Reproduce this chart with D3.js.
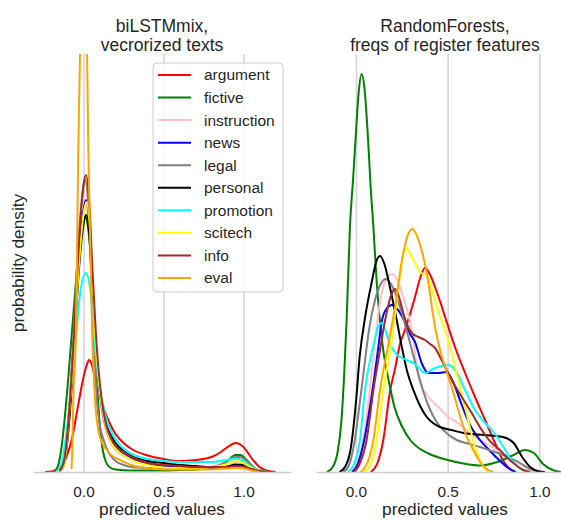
<html>

<head>
  <meta charset="utf8">
  <title>predicted values, two models</title>
  <style>
  * {
    margin: 0;
    padding: 0;
  }

  body {
    background: #fff;
  }

  text {
    font-family: "Liberation Sans", Arial, sans-serif;
    fill: #262626;
  }

  .grid line {
    stroke: #d6d6d6;
    stroke-width: 1.6px;
  }

  .axis .domain {
    stroke: #cccccc;
    stroke-width: 1.6px;
  }

  .kde {
    fill: none;
    stroke-width: 2px;
    stroke-linejoin: round;
  }
  </style>
</head>

<body>
  <script src="https://cdn.jsdelivr.net/npm/d3@7/dist/d3.min.js"></script>
  <script>

  // registers, in the order seaborn drew them (and the legend lists them)
  var registers = ['argument', 'fictive', 'instruction', 'news', 'legal',
    'personal', 'promotion', 'scitech', 'info', 'eval']
  var colors = ['red', 'green', 'pink', 'blue', 'gray',
    'black', 'cyan', 'yellow', 'brown', 'orange']
  var xTicks = [0, 0.5, 1]

  // biLSTMmix: [predicted value, density]
  var lstmDensity = [
    [[-0.24,0],[-0.2,0.02],[-0.15,0.16],[-0.1,0.72],[-0.07,1.4],[-0.05,2.08],[-0.03,2.8],[0,3.8],[0.02,4.28],[0.035,4.48],[0.05,4.32],[0.07,3.8],[0.09,3.28],[0.11,2.88],[0.13,2.48],[0.16,2.0],[0.2,1.52],[0.25,1.16],[0.3,0.92],[0.4,0.66],[0.5,0.52],[0.6,0.44],[0.7,0.48],[0.8,0.6],[0.85,0.76],[0.9,1.0],[0.95,1.16],[1.0,1.0],[1.05,0.56],[1.1,0.2],[1.15,0.05],[1.2,0]],
    [[-0.18,0.04],[-0.16,0.24],[-0.14,0.88],[-0.12,2.0],[-0.1,3.4],[-0.08,5.0],[-0.06,6.6],[-0.04,8.2],[-0.02,9.52],[0,10.12],[0.01,10.2],[0.025,9.92],[0.04,9.0],[0.06,6.8],[0.08,4.0],[0.1,2.0],[0.12,0.88],[0.14,0.4],[0.17,0.16],[0.2,0.1],[0.3,0.06],[0.4,0.06],[0.5,0.06],[0.6,0.08],[0.7,0.1],[0.8,0.16],[0.85,0.24],[0.9,0.44],[0.95,0.68],[0.98,0.68],[1.02,0.48],[1.06,0.2],[1.1,0.06],[1.15,0]],
    [[-0.15,0.04],[-0.12,0.48],[-0.09,2.3],[-0.06,5.1],[-0.03,8.2],[0,10.2],[0.015,10.6],[0.035,9.8],[0.055,7.4],[0.075,5.0],[0.095,3.4],[0.114,2.4],[0.14,1.64],[0.18,1.04],[0.22,0.76],[0.3,0.5],[0.4,0.32],[0.5,0.22],[0.6,0.18],[0.7,0.16],[0.8,0.2],[0.9,0.28],[0.95,0.38],[1.0,0.34],[1.05,0.14],[1.1,0.04],[1.15,0]],
    [[-0.15,0.04],[-0.12,0.48],[-0.09,2.32],[-0.06,5.2],[-0.03,8.4],[0,10.48],[0.015,10.88],[0.035,10.0],[0.055,7.6],[0.075,5.2],[0.095,3.6],[0.114,2.6],[0.14,1.8],[0.18,1.16],[0.22,0.84],[0.29,0.6],[0.35,0.44],[0.4,0.36],[0.5,0.24],[0.6,0.2],[0.7,0.16],[0.8,0.16],[0.9,0.2],[0.95,0.3],[1.0,0.28],[1.05,0.12],[1.1,0.04],[1.15,0]],
    [[-0.15,0.04],[-0.12,0.56],[-0.09,2.6],[-0.06,5.8],[-0.03,9.4],[0,11.48],[0.01,11.68],[0.03,10.6],[0.05,7.6],[0.065,5.2],[0.083,2.88],[0.1,1.92],[0.12,1.4],[0.134,1.12],[0.155,0.8],[0.176,0.6],[0.2,0.44],[0.25,0.28],[0.3,0.2],[0.4,0.16],[0.5,0.12],[0.6,0.12],[0.7,0.14],[0.8,0.2],[0.85,0.28],[0.9,0.44],[0.95,0.6],[0.98,0.6],[1.02,0.44],[1.06,0.2],[1.1,0.06],[1.15,0]],
    [[-0.15,0.02],[-0.12,0.32],[-0.09,2.0],[-0.06,4.8],[-0.03,8.0],[0,9.92],[0.015,10.28],[0.035,9.6],[0.055,7.4],[0.075,5.2],[0.095,3.6],[0.114,2.72],[0.134,2.08],[0.16,1.6],[0.2,1.16],[0.25,0.84],[0.31,0.6],[0.4,0.44],[0.5,0.36],[0.6,0.28],[0.7,0.24],[0.8,0.2],[0.9,0.22],[0.95,0.28],[1.0,0.26],[1.05,0.12],[1.1,0.04],[1.15,0]],
    [[-0.17,0.02],[-0.14,0.32],[-0.11,1.4],[-0.08,3.2],[-0.05,5.2],[-0.02,7.2],[0.015,7.96],[0.04,7.4],[0.06,6.0],[0.08,4.48],[0.1,3.4],[0.114,2.88],[0.145,2.08],[0.18,1.52],[0.218,1.16],[0.27,0.84],[0.35,0.6],[0.42,0.5],[0.5,0.44],[0.6,0.4],[0.7,0.4],[0.8,0.4],[0.85,0.44],[0.9,0.48],[0.95,0.54],[1.0,0.44],[1.05,0.2],[1.1,0.06],[1.15,0]],
    [[-0.15,0.02],[-0.12,0.32],[-0.084,2.88],[-0.06,5.0],[-0.03,8.2],[0,10.32],[0.018,10.8],[0.035,10.2],[0.055,7.8],[0.075,5.4],[0.095,3.68],[0.114,2.64],[0.14,1.8],[0.176,1.16],[0.22,0.8],[0.27,0.6],[0.3,0.48],[0.4,0.28],[0.5,0.18],[0.6,0.16],[0.7,0.16],[0.8,0.2],[0.85,0.24],[0.9,0.32],[0.95,0.44],[1.0,0.36],[1.05,0.16],[1.1,0.04],[1.15,0]],
    [[-0.15,0.04],[-0.12,0.48],[-0.09,2.4],[-0.06,5.4],[-0.03,9.0],[0,11.48],[0.016,11.88],[0.035,10.88],[0.055,8.2],[0.076,5.68],[0.095,4.0],[0.114,2.88],[0.14,1.92],[0.17,1.36],[0.2,1.04],[0.25,0.8],[0.3,0.6],[0.4,0.36],[0.5,0.28],[0.6,0.24],[0.7,0.2],[0.8,0.2],[0.9,0.2],[0.95,0.24],[1.0,0.22],[1.05,0.12],[1.1,0.04],[1.15,0]],
    [[-0.075,0.12],[-0.07,1.0],[-0.064,2.88],[-0.047,5.68],[-0.033,12.88],[-0.022,16.72],[-0.01,22.4],[0.005,24.8],[0.015,20.8],[0.022,16.72],[0.03,12.88],[0.053,5.68],[0.072,2.88],[0.092,1.68],[0.12,1.12],[0.145,0.88],[0.18,0.64],[0.228,0.48],[0.3,0.28],[0.353,0.2],[0.45,0.12],[0.55,0.1],[0.7,0.1],[0.85,0.12],[0.95,0.16],[1.0,0.14],[1.05,0.06],[1.1,0]]
  ]

  // RandomForests on register feature frequencies
  var rfDensity = [
    [[0.08,0],[0.115,0.16],[0.149,0.64],[0.185,1.6],[0.215,2.1],[0.24,2.56],[0.267,2.84],[0.295,3.16],[0.322,3.5],[0.35,3.88],[0.376,4.08],[0.405,3.94],[0.431,3.7],[0.46,3.4],[0.486,3.1],[0.54,2.5],[0.595,1.98],[0.649,1.5],[0.704,1.04],[0.758,0.58],[0.8,0.24],[0.84,0.06],[0.87,0]],
    [[-0.16,0],[-0.13,0.08],[-0.1,0.4],[-0.08,1.0],[-0.065,1.9],[-0.051,3.04],[-0.033,4.9],[-0.015,5.9],[0,6.8],[0.015,7.6],[0.031,7.96],[0.047,7.65],[0.067,6.58],[0.08,5.7],[0.095,4.9],[0.113,3.8],[0.131,3.0],[0.15,2.4],[0.18,1.8],[0.21,1.3],[0.25,0.92],[0.3,0.62],[0.35,0.46],[0.4,0.36],[0.5,0.24],[0.6,0.16],[0.68,0.13],[0.77,0.2],[0.86,0.34],[0.92,0.44],[0.97,0.38],[1.02,0.16],[1.08,0.03],[1.12,0]],
    [[-0.03,0],[0,0.16],[0.04,0.64],[0.075,1.64],[0.105,2.64],[0.131,3.4],[0.165,3.86],[0.199,3.96],[0.23,3.8],[0.258,3.5],[0.304,2.84],[0.345,1.84],[0.395,1.5],[0.449,1.3],[0.504,1.1],[0.558,0.98],[0.613,0.8],[0.676,0.64],[0.767,0.44],[0.858,0.24],[0.9,0.14],[0.94,0.06],[0.98,0]],
    [[-0.02,0],[0.01,0.16],[0.045,0.64],[0.09,1.64],[0.122,2.5],[0.14,3.0],[0.165,3.26],[0.195,3.34],[0.225,3.26],[0.267,3.0],[0.295,2.76],[0.322,2.6],[0.358,2.18],[0.395,1.98],[0.449,1.98],[0.495,2.0],[0.522,1.86],[0.577,1.34],[0.622,0.94],[0.676,0.64],[0.731,0.42],[0.78,0.24],[0.83,0.08],[0.87,0]],
    [[-0.07,0],[-0.04,0.12],[-0.01,0.56],[0.02,1.36],[0.045,2.1],[0.071,2.84],[0.104,3.44],[0.135,3.76],[0.162,3.86],[0.2,3.7],[0.24,3.3],[0.276,2.84],[0.322,2.2],[0.368,1.6],[0.4,1.28],[0.44,1.0],[0.5,0.76],[0.549,0.64],[0.6,0.58],[0.676,0.5],[0.74,0.42],[0.804,0.34],[0.85,0.26],[0.895,0.18],[0.93,0.1],[0.967,0.04],[1.0,0]],
    [[-0.09,0],[-0.06,0.1],[-0.03,0.44],[0,1.4],[0.02,2.3],[0.05,3.1],[0.086,3.8],[0.11,4.2],[0.131,4.32],[0.155,4.16],[0.185,3.7],[0.222,3.04],[0.25,2.5],[0.28,2.0],[0.313,1.64],[0.35,1.32],[0.386,1.1],[0.42,0.98],[0.458,0.9],[0.52,0.84],[0.586,0.78],[0.7,0.74],[0.8,0.7],[0.86,0.58],[0.91,0.28],[0.95,0.1],[1.0,0.01],[1.03,0]],
    [[-0.045,0],[-0.01,0.16],[0.022,0.64],[0.049,1.64],[0.075,2.2],[0.1,2.6],[0.12,2.9],[0.138,2.98],[0.16,2.84],[0.185,2.56],[0.22,2.36],[0.276,2.24],[0.322,2.16],[0.376,1.98],[0.431,2.08],[0.504,2.14],[0.54,2.04],[0.595,1.64],[0.649,1.24],[0.704,0.98],[0.758,0.76],[0.804,0.5],[0.84,0.28],[0.876,0.12],[0.913,0.03],[0.95,0]],
    [[0.045,0],[0.08,0.16],[0.113,0.64],[0.149,1.64],[0.195,2.64],[0.23,3.64],[0.255,4.3],[0.275,4.48],[0.295,4.36],[0.322,4.18],[0.355,3.98],[0.386,3.94],[0.41,3.7],[0.431,3.44],[0.46,3.1],[0.486,2.84],[0.54,2.1],[0.595,1.3],[0.649,0.5],[0.69,0.14],[0.72,0]],
    [[-0.01,0],[0.02,0.16],[0.058,0.64],[0.095,1.64],[0.131,2.44],[0.149,2.84],[0.167,3.18],[0.19,3.52],[0.213,3.66],[0.235,3.5],[0.258,3.18],[0.28,2.94],[0.304,2.78],[0.34,2.7],[0.376,2.64],[0.404,2.56],[0.431,2.48],[0.467,2.24],[0.522,1.84],[0.577,1.5],[0.631,1.18],[0.686,0.84],[0.74,0.58],[0.785,0.44],[0.82,0.3],[0.858,0.18],[0.913,0.04],[0.95,0]],
    [[0.025,0],[0.06,0.16],[0.095,0.64],[0.131,1.64],[0.177,2.56],[0.213,3.3],[0.258,4.38],[0.285,4.76],[0.309,4.86],[0.335,4.7],[0.358,4.44],[0.395,3.78],[0.422,3.1],[0.449,2.58],[0.486,2.1],[0.522,1.7],[0.558,1.24],[0.604,0.7],[0.64,0.44],[0.68,0.18],[0.72,0.04],[0.75,0]]
  ]

  var W = 561, H = 521
  // NB: "top" is taken by window.top, so the plot edges get their own names
  var plotTop = 54, plotBottom = 472

  var svg = d3.select('body')
    .append('svg')
    .attr('viewBox', `0 0 ${W} ${H}`)
    .attr('width', W)
    .attr('height', H)

  var panels = [
    { id: 'lstm', left: 33, xDomain: [-0.316, 1.297], yMax: 16.72, data: lstmDensity,
      title: ['biLSTMmix,', 'vecrorized texts'], legend: true, ylabel: true },
    { id: 'rf', left: 316, xDomain: [-0.218, 1.189], yMax: 8.36, data: rfDensity,
      title: ['RandomForests,', 'freqs of register features'], legend: false, ylabel: false }
  ]
  var panelWidth = 258

  panels.forEach(function (p) {
    var x = d3.scaleLinear().domain(p.xDomain).range([p.left, p.left + panelWidth])
    var y = d3.scaleLinear().domain([0, p.yMax]).range([plotBottom, plotTop])
    var cx = p.left + panelWidth / 2

    var g = svg.append('g').attr('class', 'panel ' + p.id)

    // vertical grid (whitegrid style, no horizontal lines since yticks are off)
    g.append('g')
      .attr('class', 'grid')
      .attr('transform', `translate(0,${plotBottom})`)
      .call(d3.axisBottom(x).tickValues(xTicks).tickSize(-(plotBottom - plotTop)).tickFormat(''))
      .call(s => s.select('.domain').remove())

    g.append('clipPath')
      .attr('id', 'clip-' + p.id)
      .append('rect')
      .attr('x', p.left)
      .attr('y', plotTop)
      .attr('width', panelWidth)
      .attr('height', plotBottom - plotTop)

    var line = d3.line()
      .x(d => x(d[0]))
      .y(d => y(d[1]))
      .curve(d3.curveMonotoneX)

    g.append('g')
      .attr('clip-path', `url(#clip-${p.id})`)
      .selectAll('.kde')
      .data(p.data)
      .enter()
      .append('path')
      .classed('kde', true)
      .attr('stroke', (d, i) => colors[i])
      .attr('d', line)

    // bottom spine + tick labels
    g.append('g')
      .attr('class', 'axis')
      .attr('transform', `translate(0,${plotBottom})`)
      .call(d3.axisBottom(x).tickValues(xTicks).tickSize(0).tickPadding(14).tickFormat(d3.format('.1f')))
      .call(s => s.selectAll('.tick text').style('font-size', '15.4px').attr('fill', '#262626'))

    g.append('text')
      .attr('x', cx)
      .attr('y', 515)
      .style('text-anchor', 'middle')
      .style('font-size', '17.3px')
      .text('predicted values')

    g.selectAll('.title')
      .data(p.title)
      .enter()
      .append('text')
      .attr('class', 'title')
      .attr('x', cx)
      .attr('y', (d, i) => 31.5 + i * 19)
      .style('text-anchor', 'middle')
      .style('font-size', '17.5px')
      .text(d => d)

    if (p.ylabel) {
      g.append('text')
        .attr('transform', `translate(23.5,${(plotTop + plotBottom) / 2}) rotate(-90)`)
        .style('text-anchor', 'middle')
        .style('font-size', '17.3px')
        .text('probability density')
    }

    if (p.legend) {
      var lg = g.append('g').attr('transform', 'translate(153,63)')
      lg.append('rect')
        .attr('width', 130)
        .attr('height', 229)
        .attr('rx', 4)
        .attr('fill', '#fff')
        .attr('fill-opacity', 0.8)
        .attr('stroke', '#cccccc')
        .attr('stroke-width', 1)
      var rows = lg.selectAll('.item')
        .data(registers)
        .enter()
        .append('g')
        .attr('class', 'item')
        .attr('transform', (d, i) => `translate(0,${12 + i * 22.55})`)
      rows.append('line')
        .attr('x1', 5)
        .attr('x2', 38)
        .attr('stroke', (d, i) => colors[i])
        .attr('stroke-width', 2)
      rows.append('text')
        .attr('x', 51)
        .attr('dy', '.35em')
        .style('font-size', '15.5px')
        .text(d => d)
    }
  })
  </script>
</body>

</html>
